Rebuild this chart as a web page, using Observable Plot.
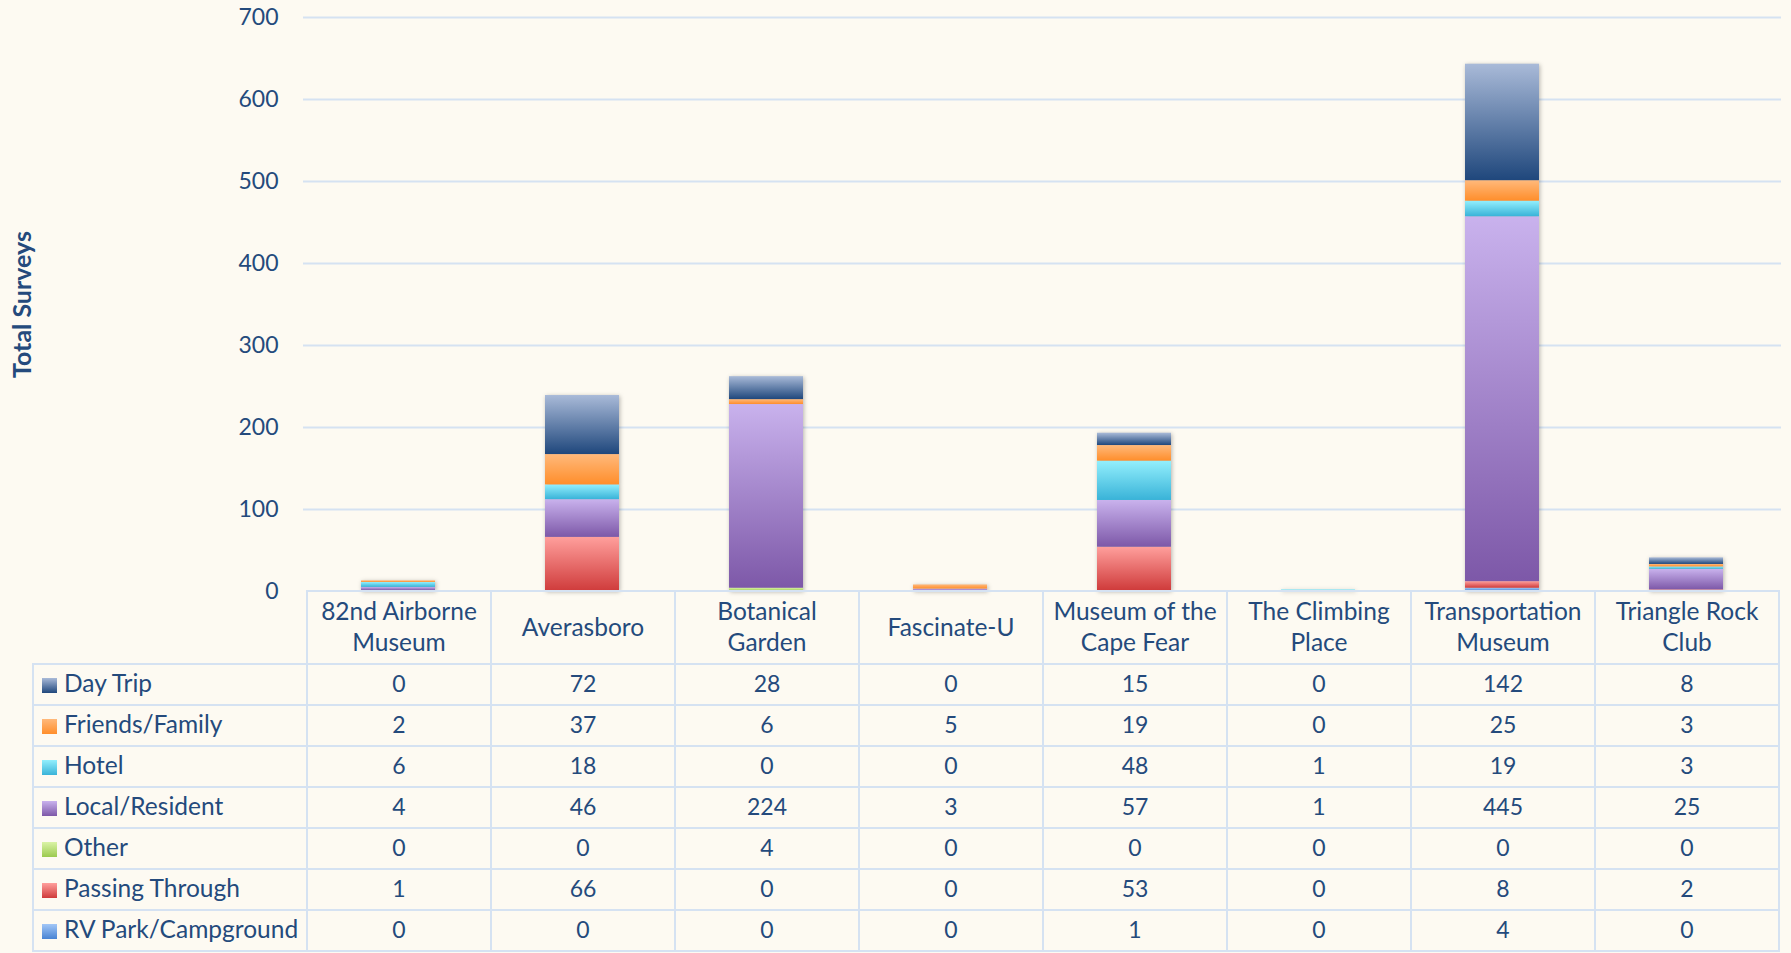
<!DOCTYPE html>
<html>
<head>
<meta charset="utf-8">
<script src="https://cdn.jsdelivr.net/npm/d3@7"></script>
<script src="https://cdn.jsdelivr.net/npm/@observablehq/plot@0.6"></script>
<style>
  html, body { margin: 0; padding: 0; background: #FDFAF2; }
  body { width: 1791px; height: 953px; overflow: hidden; position: relative;
         font-family: Lato, "Open Sans", sans-serif; color: #244A7C; }
  #chart { position: absolute; left: 0; top: 0; }
  #table { position: absolute; left: 32px; top: 590px; border-collapse: collapse;
           table-layout: fixed; font-family: Lato, sans-serif; font-size: 24.5px; color: #244A7C; }
  #table td { border: 2px solid #D5E2F2; text-align: center; padding: 0 0 3px 0; height: 36px;
              line-height: 24px; white-space: nowrap; }
  #table td.num { font-size: 23px; }
  #table tr.head td { height: 68px; white-space: pre-line; line-height: 31px; }
  #table tr.head td.corner { border: none; }
  #table td.name { text-align: left; padding-left: 8px; }
  #table .sw { display: inline-block; width: 15px; height: 15px; margin-right: 7px; vertical-align: -1px; }
</style>
</head>
<body>
<div id="chart"></div>
<script>
// ---- data ----
const sites = ["82nd Airborne Museum", "Averasboro", "Botanical Garden", "Fascinate-U",
  "Museum of the Cape Fear", "The Climbing Place", "Transportation Museum", "Triangle Rock Club"];
const siteLabels = ["82nd Airborne\nMuseum", "Averasboro", "Botanical\nGarden", "Fascinate-U",
  "Museum of the\nCape Fear", "The Climbing\nPlace", "Transportation\nMuseum", "Triangle Rock\nClub"];
const series = ["Day Trip", "Friends/Family", "Hotel", "Local/Resident", "Other",
  "Passing Through", "RV Park/Campground"];
const dayTrip        = [0, 72, 28, 0, 15, 0, 142, 8];
const friendsFamily  = [2, 37, 6, 5, 19, 0, 25, 3];
const hotel          = [6, 18, 0, 0, 48, 1, 19, 3];
const localResident  = [4, 46, 224, 3, 57, 1, 445, 25];
const other          = [0, 0, 4, 0, 0, 0, 0, 0];
const passingThrough = [1, 66, 0, 0, 53, 0, 8, 2];
const rvPark         = [0, 0, 0, 0, 1, 0, 4, 0];
const yTicks = [0, 100, 200, 300, 400, 500, 600, 700];
const yLabel = "Total Surveys";

const seriesValues = [dayTrip, friendsFamily, hotel, localResident, other, passingThrough, rvPark];
// gradient colours (top, bottom) per series
const gradients = [
  ["#A9BAD8", "#1F477C"],
  ["#FFB97B", "#FF8E2B"],
  ["#93EFFD", "#39B3D8"],
  ["#C9B2ED", "#7D58A8"],
  ["#DAF3A6", "#9BCA4F"],
  ["#FF9F9C", "#CF3B3B"],
  ["#A2C7F7", "#4883D3"]
];

// stacked bottom-first: RV Park ... Day Trip
const stackOrder = d3.range(series.length).reverse();
const barData = sites.flatMap((site, i) =>
  stackOrder.map(k => ({site, series: series[k], value: seriesValues[k][i]})));

const chart = Plot.plot({
  width: 1791,
  height: 592,
  marginLeft: 303,
  marginRight: 10,
  marginTop: 17,
  marginBottom: 1,
  style: {background: "transparent", fontFamily: "Lato, sans-serif", fontSize: "23px", color: "#244A7C", overflow: "visible"},
  x: {domain: sites, paddingInner: 0.6, paddingOuter: 0.3, axis: null},
  y: {domain: [0, 700]},
  color: {type: "ordinal", domain: series, range: series.map((s, k) => `url(#grad${k})`)},
  marks: [
    Plot.ruleY(yTicks.filter(t => t > 0), {stroke: "#D5E2F2", strokeWidth: 2}),
    Plot.axisY(yTicks, {tickSize: 0, tickPadding: 25, label: null, fontSize: 23}),
    Plot.barY(barData, {x: "site", y: "value", fill: "series"}),
    Plot.text([yLabel], {frameAnchor: "left", textAnchor: "middle", rotate: -90, dx: -281,
      fontWeight: "bold", fontSize: 25, fill: "#244A7C"})
  ]
});

const svg = d3.select(chart);
const defs = svg.insert("defs", ":first-child");
gradients.forEach(([top, bottom], k) => {
  const g = defs.append("linearGradient").attr("id", `grad${k}`)
    .attr("x1", 0).attr("y1", 0).attr("x2", 0).attr("y2", 1);
  g.append("stop").attr("offset", "0%").attr("stop-color", top);
  g.append("stop").attr("offset", "100%").attr("stop-color", bottom);
});
svg.selectAll('g[aria-label="bar"]').style("filter", "drop-shadow(1px 1px 2px rgba(0,0,0,0.28))");

document.getElementById("chart").appendChild(chart);

// ---- data table below the plot, aligned with the x scale ----
const xs = chart.scale("x");
const step = xs.step;
const firstLeft = xs.apply(sites[0]) - (step - xs.bandwidth) / 2;
const nameColWidth = firstLeft - 32;

const table = d3.select("body").append("table").attr("id", "table")
  .style("width", `${nameColWidth + step * sites.length}px`);
const cg = table.append("colgroup");
cg.append("col").style("width", `${nameColWidth}px`);
sites.forEach(() => cg.append("col").style("width", `${step}px`));

const head = table.append("tr").attr("class", "head");
head.append("td").attr("class", "corner");
siteLabels.forEach(l => head.append("td").text(l));

series.forEach((s, k) => {
  const tr = table.append("tr");
  const nameCell = tr.append("td").attr("class", "name");
  nameCell.append("span").attr("class", "sw")
    .style("background", `linear-gradient(${gradients[k][0]}, ${gradients[k][1]})`);
  nameCell.append("span").text(s);
  seriesValues[k].forEach(v => tr.append("td").attr("class", "num").text(v));
});
</script>
</body>
</html>
